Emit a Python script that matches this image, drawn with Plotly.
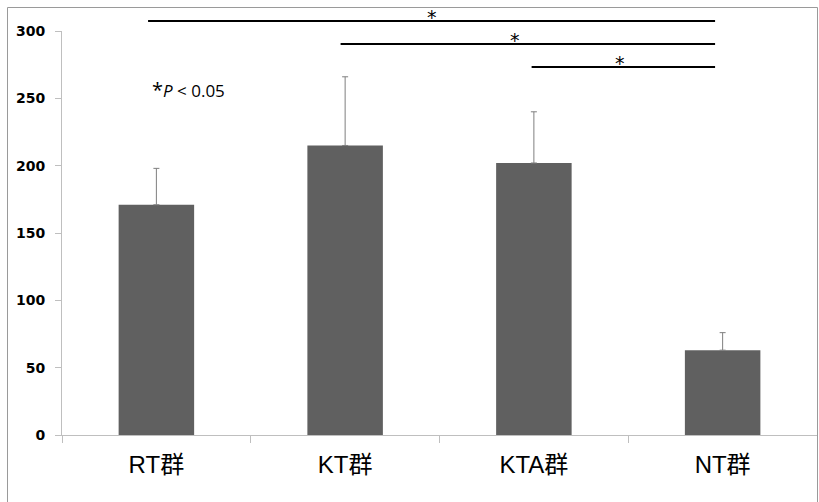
import plotly.graph_objects as go

categories = ["RT群", "KT群", "KTA群", "NT群"]
means = [171, 215, 202, 63]
errors = [27, 51, 38, 13]
y_ticks = [0, 50, 100, 150, 200, 250, 300]
# significance comparisons: (from index, to index, label)
comparisons = [(0, 3, "*"), (1, 3, "*"), (2, 3, "*")]
sig_levels_px = [21, 44, 67]

fig = go.Figure()
fig.add_trace(go.Bar(
    x=categories, y=means, width=0.4,
    marker=dict(color="#606060", line=dict(width=0)),
    error_y=dict(type="data", array=errors, arrayminus=[0]*len(errors), symmetric=False,
                 color="#7f7f7f", thickness=1, width=3),
    hoverinfo="skip",
))

W, H = 819, 502
L, R, T, B = 62, 2, 31, 67
pw, ph = W - L - R, H - T - B

def px_to_paper_x(px):
    return (px - L) / pw

def px_to_paper_y(py):
    return (H - B - py) / ph

def cat_to_paper(i):
    return (i + 0.5) / len(categories)

start_off = [-0.011, -0.006, -0.003]
end_off = -0.01
star_shift_px = [0, -13, 4]

shapes = []
annotations = []
for k, ((a, b, lab), lvl) in enumerate(zip(comparisons, sig_levels_px)):
    x0 = cat_to_paper(a) + start_off[k]
    x1 = cat_to_paper(b) + end_off
    yp = px_to_paper_y(lvl)
    shapes.append(dict(type="line", xref="paper", yref="paper", x0=x0, x1=x1, y0=yp, y1=yp,
                       line=dict(color="black", width=2)))
    annotations.append(dict(xref="paper", yref="paper", x=(x0 + x1) / 2, y=yp, text=lab,
                            showarrow=False, yanchor="middle", yshift=4, xshift=star_shift_px[k],
                            font=dict(family="DejaVu Sans", size=19, color="black")))

# outer frame (top, left, right edges)
frame_color = "#9a9a9a"
fx0, fx1 = px_to_paper_x(7.5), px_to_paper_x(817.5)
fy0, fy1 = px_to_paper_y(505), px_to_paper_y(7.5)
for (ax, ay, bx, by) in [(fx0, fy1, fx1, fy1), (fx0, fy1, fx0, fy0), (fx1, fy1, fx1, fy0)]:
    shapes.append(dict(type="line", xref="paper", yref="paper", x0=ax, y0=ay, x1=bx, y1=by,
                       line=dict(color=frame_color, width=1), layer="above"))

annotations.append(dict(xref="paper", yref="paper", x=px_to_paper_x(150), y=px_to_paper_y(89),
                        xanchor="left", yanchor="middle", showarrow=False,
                        text="<span style='font-size:20px'>*</span><i>P</i> < 0.05",
                        font=dict(family="Open Sans", size=17, color="black")))

fig.update_layout(
    width=W, height=H,
    margin=dict(l=L, r=R, t=T, b=B),
    paper_bgcolor="white", plot_bgcolor="white",
    showlegend=False,
    shapes=shapes, annotations=annotations,
    xaxis=dict(range=[-0.5, 3.5], showline=True, linecolor="#bfbfbf", linewidth=1,
               ticks="outside", tickson="boundaries", ticklen=7, tickcolor="#bfbfbf",
               showgrid=False, zeroline=False,
               tickfont=dict(family="Liberation Sans, Noto Sans CJK JP", size=24, color="black"),
               ticklabelstandoff=8),
    yaxis=dict(range=[0, 300], tickvals=y_ticks, showline=True, linecolor="#bfbfbf", linewidth=1,
               ticks="outside", ticklen=6, tickcolor="#bfbfbf",
               showgrid=False, zeroline=False,
               tickfont=dict(family="DejaVu Sans", size=14, color="black", weight="bold"),
               ticklabelstandoff=7),
)

fig.write_html("out.html", post_script="document.body.style.margin='0';",
               config={"displayModeBar": False})
